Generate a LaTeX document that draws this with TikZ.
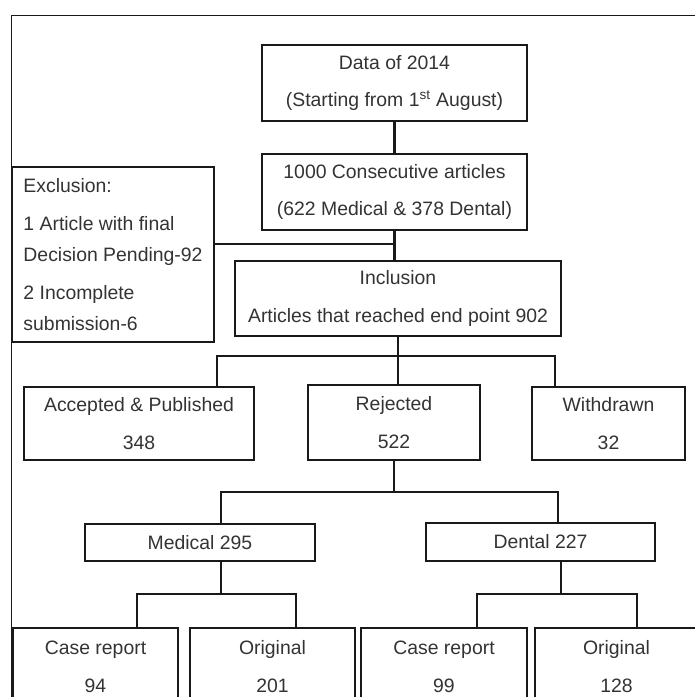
\documentclass[tikz,border=0pt]{standalone}
\usepackage{fontspec}
\setmainfont{Liberation Sans}
\usepackage{tikz}

\begin{document}
\begin{tikzpicture}[
		box/.style={draw=black!90, line width=1.7pt, inner sep=0pt, align=center, text=black!80, font=\fontsize{13.8}{27}\selectfont},
		link/.style={draw=black!90, line width=1.7pt},
		frame/.style={draw=black!90, line width=0.7pt}]
		\path[use as bounding box, clip] (0,0) rectangle (17.375,17.425);
		\draw[frame] (0.275,-1) -- (0.275,17.05) -- (18,17.05);
		% top of the chart
		\node[box, minimum width=6.625cm, minimum height=1.9cm] (data) at (9.8625,15.35) {Data of 2014\\(Starting from 1\textsuperscript{st} August)};
		\node[box, minimum width=6.625cm, minimum height=1.9cm] (total) at (9.8625,12.625) {1000 Consecutive articles\\(622 Medical \& 378 Dental)};
		\node[box, align=left, minimum width=5.05cm, minimum height=4.375cm, font=\fontsize{13.8}{22}\selectfont] (excl) at (2.825,11.0625) {Exclusion:\\[5pt]1 Article with final\\Decision Pending-92\\[5pt]2 Incomplete\\submission-6};
		\node[box, minimum width=8.15cm, minimum height=1.875cm] (incl) at (9.95,9.9625) {Inclusion\\Articles that reached end point 902};
		% outcome
		\node[box, minimum width=5.75cm, minimum height=1.825cm] (acc) at (3.475,6.8375) {Accepted \& Published\\348};
		\node[box, minimum width=4.3cm, minimum height=1.875cm] (rej) at (9.85,6.8625) {Rejected\\522};
		\node[box, minimum width=3.825cm, minimum height=1.825cm] (wdr) at (15.2125,6.8375) {Withdrawn\\32};
		% rejected by journal
		\node[box, minimum width=5.75cm, minimum height=0.925cm] (med) at (5.0,3.8625) {Medical 295};
		\node[box, minimum width=5.725cm, minimum height=0.95cm] (den) at (13.5125,3.875) {Dental 227};
		\node[box, minimum width=4.125cm, minimum height=1.925cm] (mcr) at (2.3875,0.7625) {Case report\\94};
		\node[box, minimum width=4.125cm, minimum height=1.925cm] (mor) at (6.8125,0.7625) {Original\\201};
		\node[box, minimum width=4.15cm, minimum height=1.925cm] (dcr) at (11.1,0.7625) {Case report\\99};
		\node[box, minimum width=4.075cm, minimum height=1.925cm] (dor) at (15.4125,0.7625) {Original\\128};
		% joints
		\coordinate (j1) at (9.8625,11.325);
		\coordinate (b1l) at (5.425,8.525);
		\coordinate (b1r) at (13.875,8.525);
		\coordinate (b2l) at (5.525,5.125);
		\coordinate (b2r) at (13.95,5.125);
		\coordinate (m1) at (5.525,2.575);
		\coordinate (d1) at (14.025,2.575);
		\coordinate (b3l) at (3.425,2.575);
		\coordinate (b3r) at (7.4,2.575);
		\coordinate (b4l) at (11.925,2.575);
		\coordinate (b4r) at (15.925,2.575);
		% connectors
		\draw[link] (data) -- (total);
		\draw[link] (total) -- (total |- incl.north);
		\draw[link] (excl.east |- j1) -- (j1);
		\draw[link] (incl.south) -- (incl.south |- rej.north);
		\draw[link] (b1l |- acc.north) -- (b1l) -- (b1r) -- (b1r |- wdr.north);
		\draw[link] (rej.south) -- (rej.south |- b2l);
		\draw[link] (b2l |- med.north) -- (b2l) -- (b2r) -- (b2r |- den.north);
		\draw[link] (m1 |- med.south) -- (m1);
		\draw[link] (d1 |- den.south) -- (d1);
		\draw[link] (b3l |- mcr.north) -- (b3l) -- (b3r) -- (b3r |- mor.north);
		\draw[link] (b4l |- dcr.north) -- (b4l) -- (b4r) -- (b4r |- dor.north);
	\end{tikzpicture}
\end{document}
